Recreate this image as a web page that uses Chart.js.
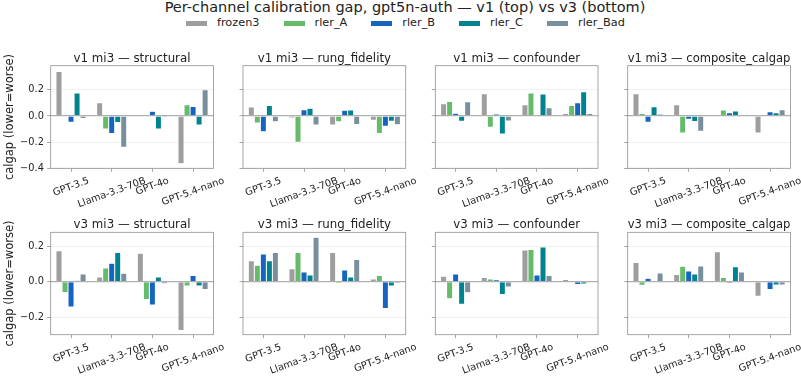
<!DOCTYPE html>
<html>
<head>
<meta charset="utf-8">
<script src="https://cdn.jsdelivr.net/npm/chart.js@4.4.1/dist/chart.umd.min.js"></script>
<style>
  body { margin: 0; background: #fff; }
  #fig { position: relative; width: 801px; height: 377px; background: #fff; font-family: 'DejaVu Sans', sans-serif; color: #222; }
  #fig canvas { position: absolute; left: 0; top: 0; }
  #sup { position: absolute; left: 0; top: -1px; width: 810px; text-align: center; font-size: 14.5px; line-height: 17px; white-space: nowrap; }
  #legend { position: absolute; left: 186px; top: 16px; height: 14px; display: flex; align-items: center; font-size: 11.3px; line-height: 14px; white-space: nowrap; }
  #legend .item { display: flex; align-items: center; margin-right: 24px; }
  #legend .sw { width: 21px; height: 5px; margin-right: 10px; }
</style>
</head>
<body>
<div id="fig">
  <div id="sup">Per-channel calibration gap, gpt5n-auth — v1 (top) vs v3 (bottom)</div>
  <div id="legend"></div>
</div>
<script>
// categories and series
const MODELS = ['GPT-3.5', 'Llama-3.3-70B', 'GPT-4o', 'GPT-5.4-nano'];
const SERIES = ['frozen3', 'rler_A', 'rler_B', 'rler_C', 'rler_Bad'];

// one row per series (frozen3, rler_A, rler_B, rler_C, rler_Bad), one value per model
const v1Structural = [
  [0.34, 0.10, 0.005, -0.365],
  [0.0, -0.10, 0.005, 0.085],
  [-0.048, -0.135, 0.035, 0.073],
  [0.175, -0.05, -0.10, -0.07],
  [-0.02, -0.24, -0.01, 0.20]
];
const v1Rung = [
  [0.068, -0.015, -0.07, -0.033],
  [-0.053, -0.20, -0.045, -0.135],
  [-0.12, 0.048, 0.043, -0.078],
  [0.08, 0.058, 0.045, -0.04],
  [-0.045, -0.07, -0.066, -0.068]
];
const v1Confounder = [
  [0.094, 0.17, 0.086, 0.018],
  [0.11, -0.086, 0.175, 0.08],
  [0.02, 0.015, -0.005, 0.10],
  [-0.04, -0.137, 0.167, 0.185],
  [0.108, -0.038, 0.063, 0.018]
];
const v1Composite = [
  [0.17, 0.086, 0.003, -0.13],
  [0.018, -0.13, 0.045, 0.008],
  [-0.048, -0.025, 0.025, 0.033],
  [0.07, -0.043, 0.038, 0.025],
  [0.015, -0.116, -0.005, 0.048]
];
const v3Structural = [
  [0.174, 0.026, 0.16, -0.273],
  [-0.06, 0.077, -0.10, -0.024],
  [-0.142, 0.103, -0.13, 0.035],
  [0.007, 0.164, 0.026, -0.024],
  [0.043, 0.047, -0.011, -0.043]
];
const v3Rung = [
  [0.118, 0.073, 0.164, 0.015],
  [0.092, 0.164, -0.009, 0.035],
  [0.155, 0.054, 0.065, -0.15],
  [0.118, 0.037, 0.026, -0.024],
  [0.164, 0.249, 0.125, -0.007]
];
const v3Confounder = [
  [0.03, 0.024, 0.178, 0.013],
  [-0.095, 0.015, 0.181, -0.004],
  [0.043, 0.011, 0.037, -0.015],
  [-0.127, -0.071, 0.194, -0.013],
  [-0.062, -0.03, 0.035, 0.0]
];
const v3Composite = [
  [0.108, 0.041, 0.168, -0.082],
  [-0.02, 0.086, 0.024, 0.004],
  [0.019, 0.06, -0.009, -0.043],
  [0.0, 0.043, 0.084, -0.019],
  [0.049, 0.088, 0.054, -0.019]
];

const v1Ticks = [-0.4, -0.2, 0, 0.2];
const v3Ticks = [-0.2, 0, 0.2];

const PANELS = [
  { title: 'v1 mi3 — structural', data: v1Structural },
  { title: 'v1 mi3 — rung_fidelity', data: v1Rung },
  { title: 'v1 mi3 — confounder', data: v1Confounder },
  { title: 'v1 mi3 — composite_calgap', data: v1Composite },
  { title: 'v3 mi3 — structural', data: v3Structural },
  { title: 'v3 mi3 — rung_fidelity', data: v3Rung },
  { title: 'v3 mi3 — confounder', data: v3Confounder },
  { title: 'v3 mi3 — composite_calgap', data: v3Composite }
];

// styling / layout
const COLORS = ['#9e9e9e', '#66bb6a', '#1565c0', '#00838f', '#78909c'];
const FONT = "'DejaVu Sans', sans-serif";
const W = 801, H = 377;
const COL_LEFT = [50.7, 243, 435.3, 627.7];
const PANEL_W = 162.7;
const ROW_TOP = [65.7, 232.3];
const ROW_BOTTOM = [168.3, 334.7];
const ROW_RANGE = [[-0.4, 0.384], [-0.297, 0.277]];
const ROW_TICKS = [v1Ticks, v3Ticks];
const TICK = 3.5;
const TICK_FONT = 9.8;
const TITLE_SIZE = 11.8;
const TITLE_H = TITLE_SIZE * 1.2;
const SPINE = '#8f8f8f';

// legend
const legend = document.getElementById('legend');
SERIES.forEach((s, i) => {
  const item = document.createElement('div');
  item.className = 'item';
  item.innerHTML = '<span class="sw" style="background:' + COLORS[i] + '"></span><span>' + s + '</span>';
  legend.appendChild(item);
});

// frame + rotated, centred x labels (matplotlib style)
const framePlugin = {
  id: 'frame',
  afterDraw(chart) {
    const { ctx, chartArea } = chart;
    ctx.save();
    ctx.strokeStyle = SPINE;
    ctx.lineWidth = 0.8;
    ctx.strokeRect(chartArea.left, chartArea.top, chartArea.right - chartArea.left, chartArea.bottom - chartArea.top);

    const xs = chart.scales.x;
    const a = 20 * Math.PI / 180;
    ctx.font = TICK_FONT + 'px ' + FONT;
    ctx.fillStyle = '#222';
    ctx.textAlign = 'center';
    ctx.textBaseline = 'middle';
    chart.data.labels.forEach((lab, i) => {
      const w = ctx.measureText(lab).width;
      const bh = w * Math.sin(a) + TICK_FONT * 1.17 * Math.cos(a);
      const x = xs.getPixelForTick(i);
      const y = chartArea.bottom + 6.8 + bh / 2;
      ctx.save();
      ctx.translate(x, y);
      ctx.rotate(-a);
      ctx.fillText(lab, 0, 0);
      ctx.restore();
    });
    ctx.restore();
  }
};

const fig = document.getElementById('fig');

PANELS.forEach((p, idx) => {
  const row = Math.floor(idx / 4);
  const col = idx % 4;
  const canvas = document.createElement('canvas');
  canvas.width = W;
  canvas.height = H;
  fig.appendChild(canvas);

  const padLeft = col === 0 ? 3 : COL_LEFT[col] - TICK;
  const yWidth = COL_LEFT[col] - padLeft;

  new Chart(canvas.getContext('2d'), {
    type: 'bar',
    data: {
      labels: MODELS,
      datasets: SERIES.map((s, i) => ({
        label: s,
        data: p.data[i],
        backgroundColor: COLORS[i],
        borderColor: 'rgba(255,255,255,0.7)',
        borderWidth: 0.5,
        barPercentage: 1.0,
        categoryPercentage: 0.74
      }))
    },
    options: {
      responsive: false,
      animation: false,
      devicePixelRatio: 1,
      layout: {
        padding: {
          left: padLeft,
          right: W - (COL_LEFT[col] + PANEL_W),
          top: ROW_TOP[row] - TITLE_H,
          bottom: H - ROW_BOTTOM[row] - TICK
        }
      },
      plugins: {
        legend: { display: false },
        tooltip: { enabled: false },
        title: {
          display: true,
          text: p.title,
          fullSize: false,
          color: '#222',
          font: { family: FONT, size: TITLE_SIZE, weight: 'normal', lineHeight: 1.2 },
          padding: { top: 0, bottom: 0 }
        }
      },
      scales: {
        x: {
          offset: true,
          border: { display: false },
          grid: { display: true, offset: false, drawOnChartArea: false, drawTicks: true, tickLength: TICK, tickColor: SPINE, tickWidth: 0.8 },
          ticks: { display: false },
          afterFit: s => { s.height = TICK; }
        },
        y: {
          min: ROW_RANGE[row][0],
          max: ROW_RANGE[row][1],
          border: { display: false },
          afterBuildTicks: s => { s.ticks = ROW_TICKS[row].map(v => ({ value: v })); },
          afterFit: s => { s.width = yWidth; },
          grid: {
            color: c => (c.tick && c.tick.value === 0) ? '#b0b0b0' : '#ececec',
            lineWidth: c => (c.tick && c.tick.value === 0) ? 1.2 : 0.8,
            drawTicks: true,
            tickLength: TICK,
            tickColor: SPINE,
            tickWidth: 0.8
          },
          ticks: {
            display: col === 0,
            padding: 3.3,
            color: '#222',
            font: { family: FONT, size: TICK_FONT },
            callback: v => (v < 0 ? '\u2212' : '') + Math.abs(v).toFixed(1)
          },
          title: {
            display: col === 0,
            text: 'calgap (lower=worse)',
            color: '#222',
            font: { family: FONT, size: 11.5 },
            padding: { top: 0, bottom: 0 }
          }
        }
      }
    },
    plugins: [framePlugin]
  });
});
</script>
</body>
</html>
